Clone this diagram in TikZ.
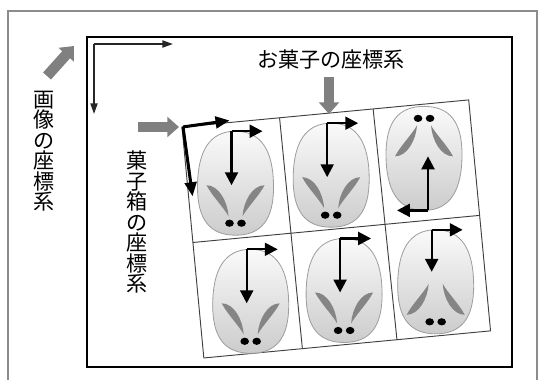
\documentclass[tikz,border=0pt]{standalone}
\usepackage{fontspec}
\newfontfamily\jpfont{Noto Sans CJK JP}
\usetikzlibrary{arrows.meta}

\begin{document}
\begin{tikzpicture}[
    x=0.03cm, y=-0.03cm,
    jtext/.style={font=\jpfont\fontsize{18}{17.5}\selectfont, inner sep=0pt, align=center},
    pointer/.style={draw=black!50, line width=9pt, -{Triangle[length=10pt,width=17pt]}},
    imgaxis/.style={draw=black!85, line width=1.4pt, -{Triangle[length=9pt,width=6pt]}},
    boxaxis/.style={draw=black, line width=2.6pt, -{Triangle[length=12pt,width=10pt]}},
    itemaxis/.style={draw=black, line width=2pt, -{Triangle[length=11pt,width=11pt]}},
    cell/.style={draw=black!75, line width=0.8pt},
    ears/.style={},
    earflip/.style={shift={(0,35)}, yscale=-1},
    ylen/.store in=\sweetylen, ylen=54,
    sweet/.pic={
        % egg-shaped sweet with its own axes on top
        \path[shade, top color=black!2, bottom color=black!20, draw=black!38, line width=0.7pt]
            (0,-52) .. controls (26,-52) and (38,-32) .. (38,4)
            .. controls (38,36) and (26,52) .. (0,52)
            .. controls (-26,52) and (-38,36) .. (-38,4)
            .. controls (-38,-32) and (-26,-52) .. (0,-52) -- cycle;
        \begin{scope}[ears]
            \fill[black!48] (-29,2) .. controls (-17,2) and (-8,18) .. (-7,33)
                .. controls (-12,24) and (-24,12) .. (-29,2) -- cycle;
            \fill[black!48] (29,2) .. controls (17,2) and (8,18) .. (7,33)
                .. controls (12,24) and (24,12) .. (29,2) -- cycle;
        \end{scope}
        \fill (-6,40) ellipse [x radius=4.3, y radius=3.6];
        \fill (6,40) ellipse [x radius=4.3, y radius=3.6];
        \coordinate (-o) at (-4,-52);
        \coordinate (-x) at (27,-52);
        \coordinate (-y) at (-4,-52+\sweetylen);
        \draw[itemaxis] (-o) -- (-x);
        \draw[itemaxis] (-o) -- (-y);
    }
]

\clip (0,0) rectangle (539,379);

% outer and photo frames
\draw[black!45, line width=1.2pt] (8,11) rectangle (537,400);
\draw[black, line width=2.4pt] (87,37) rectangle (512,367);

% image axes
\coordinate (img) at (94,44);
\coordinate (imgx) at (173,44);
\coordinate (imgy) at (94,114);
\draw[imgaxis] (img) -- (imgx);
\draw[imgaxis] (img) -- (imgy);

% labels
\node[jtext] (imglabel) at (44,151) {画\\像\\の\\座\\標\\系};
\node[jtext] (boxlabel) at (137,222) {菓\\子\\箱\\の\\座\\標\\系};
\node[jtext] (sweetlabel) at (331,60) {お菓子の座標系};

% tilted box with six sweets
\begin{scope}[shift={(182,127)}, rotate=5.4]
    \draw[cell] (0,0) rectangle (288,232);
    \draw[cell] (98,0) -- (99,232);
    \draw[cell] (192,0) -- (194,232);
    \draw[cell] (0,116) -- (288,116);

    \pic (s1) at (48,61) {sweet};
    \pic (s2) at (144,62) {sweet};
    \pic[rotate=180] (s3) at (238,54) {sweet};
    \pic (s4) at (52,180) {sweet};
    \pic (s5) at (146,178) {sweet};
    \pic[ears/.style=earflip, ylen=42] (s6) at (238,178) {sweet};

    \coordinate (box) at (1,0);
    \coordinate (boxx) at (48,-2);
    \coordinate (boxy) at (4,70);
    \draw[boxaxis] (box) -- (boxx);
    \draw[boxaxis] (box) -- (boxy);
\end{scope}

% gray pointers
\coordinate (p1s) at (47,76);
\coordinate (p1e) at (74,46);
\coordinate (p2s) at (329,77);
\coordinate (p2e) at (329,114);
\coordinate (p3s) at (138,127);
\coordinate (p3e) at (179,127);
\draw[pointer] (p1s) -- (p1e);
\draw[pointer] (p2s) -- (p2e);
\draw[pointer] (p3s) -- (p3e);

\end{tikzpicture}
\end{document}
